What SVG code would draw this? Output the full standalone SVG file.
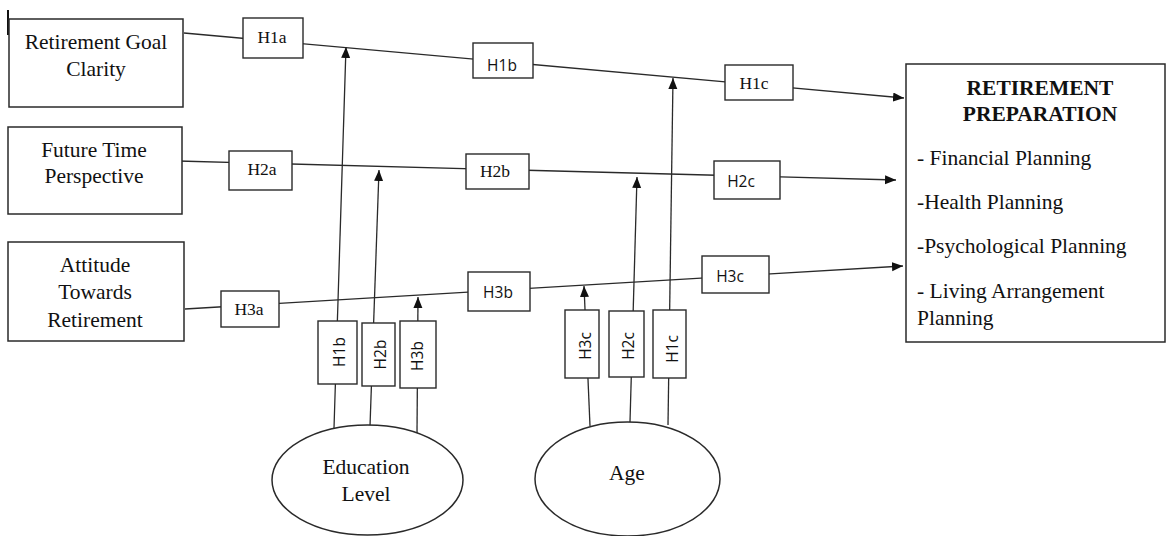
<svg xmlns="http://www.w3.org/2000/svg" width="1167" height="536" viewBox="0 0 1167 536">
<style>
  .box { fill: #fff; stroke: #2a2a2a; stroke-width: 1.5; }
  .lbl { fill: #fff; stroke: #2a2a2a; stroke-width: 1.4; }
  .edge { fill: none; stroke: #2a2a2a; stroke-width: 1.3; }
  .serif { font-family: "Liberation Serif", "Times New Roman", serif; fill: #111; }
  .sans { font-family: "Open Sans", "Liberation Sans", sans-serif; fill: #111; }
  .node { font-size: 21.5px; text-anchor: middle; }
  .hs { font-size: 17.5px; text-anchor: middle; }
  .hn { font-size: 15.5px; text-anchor: middle; }
  .rp { font-size: 21.5px; }
</style>
<defs>
  <marker id="arrow" markerUnits="userSpaceOnUse" markerWidth="12" markerHeight="10" refX="11" refY="4.5" orient="auto">
    <path d="M0,0 L11,4.5 L0,9 z" fill="#111"/>
  </marker>
</defs>
<rect width="1167" height="536" fill="#fff"/>
<line x1="8" y1="10" x2="8" y2="35" stroke="#111" stroke-width="2"/>

<g id="connectors">
  <line class="edge" x1="184" y1="33" x2="904" y2="98" marker-end="url(#arrow)"/>
  <line class="edge" x1="178" y1="161" x2="896" y2="180" marker-end="url(#arrow)"/>
  <line class="edge" x1="185" y1="309" x2="903" y2="266" marker-end="url(#arrow)"/>
  <line class="edge" x1="334" y1="428" x2="346" y2="47" marker-end="url(#arrow)"/>
  <line class="edge" x1="370" y1="426" x2="379" y2="170" marker-end="url(#arrow)"/>
  <line class="edge" x1="417" y1="433" x2="418" y2="297" marker-end="url(#arrow)"/>
  <line class="edge" x1="590" y1="426" x2="584" y2="286" marker-end="url(#arrow)"/>
  <line class="edge" x1="630" y1="422" x2="637" y2="177" marker-end="url(#arrow)"/>
  <line class="edge" x1="668" y1="425" x2="673" y2="78" marker-end="url(#arrow)"/>
</g>

<g id="node-goal-clarity">
  <rect class="box" x="9" y="19" width="174" height="88"/>
  <text class="serif node" x="96" y="49">Retirement Goal</text>
  <text class="serif node" x="96" y="76">Clarity</text>
</g>
<g id="node-future-time">
  <rect class="box" x="8" y="127" width="174" height="87"/>
  <text class="serif node" x="94" y="157">Future Time</text>
  <text class="serif node" x="94" y="183">Perspective</text>
</g>
<g id="node-attitude">
  <rect class="box" x="8" y="242" width="176" height="99"/>
  <text class="serif node" x="95" y="272">Attitude</text>
  <text class="serif node" x="95" y="299">Towards</text>
  <text class="serif node" x="95" y="327">Retirement</text>
</g>
<g id="node-retirement-preparation">
  <rect class="box" x="906" y="64" width="259" height="278"/>
  <text class="serif rp" x="1040" y="95" text-anchor="middle" font-weight="bold">RETIREMENT</text>
  <text class="serif rp" x="1040" y="121" text-anchor="middle" font-weight="bold">PREPARATION</text>
  <text class="serif rp" x="917" y="165">- Financial Planning</text>
  <text class="serif rp" x="917" y="209">-Health Planning</text>
  <text class="serif rp" x="917" y="253">-Psychological Planning</text>
  <text class="serif rp" x="917" y="298">- Living Arrangement</text>
  <text class="serif rp" x="917" y="325">Planning</text>
</g>
<g id="node-education">
  <ellipse class="box" cx="367.5" cy="480" rx="95.5" ry="55"/>
  <text class="serif node" x="366" y="474">Education</text>
  <text class="serif node" x="366" y="501">Level</text>
</g>
<g id="node-age">
  <ellipse class="box" cx="627.5" cy="479" rx="92.5" ry="57"/>
  <text class="serif node" x="627" y="480">Age</text>
</g>

<g id="label-H1a"><rect class="lbl" x="243" y="18" width="60" height="40"/><text class="serif hs" x="272" y="43">H1a</text></g>
<g id="label-H1b"><rect class="lbl" x="473" y="43" width="60" height="35"/><text class="sans hn" x="502" y="71">H1b</text></g>
<g id="label-H1c"><rect class="lbl" x="725" y="65" width="68" height="35"/><text class="serif hs" x="754" y="89">H1c</text></g>
<g id="label-H2a"><rect class="lbl" x="229" y="151" width="63" height="39"/><text class="serif hs" x="262" y="175">H2a</text></g>
<g id="label-H2b"><rect class="lbl" x="466" y="154" width="63" height="35"/><text class="serif hs" x="495" y="177">H2b</text></g>
<g id="label-H2c"><rect class="lbl" x="714" y="161" width="66" height="38"/><text class="sans hn" x="741" y="187">H2c</text></g>
<g id="label-H3a"><rect class="lbl" x="221" y="291" width="58" height="36"/><text class="serif hs" x="249" y="315">H3a</text></g>
<g id="label-H3b"><rect class="lbl" x="468" y="272" width="62" height="39"/><text class="sans hn" x="498" y="298">H3b</text></g>
<g id="label-H3c"><rect class="lbl" x="702" y="256" width="67" height="37"/><text class="sans hn" x="730" y="282">H3c</text></g>

<g id="label-edu-H1b"><rect class="lbl" x="318" y="321" width="39" height="63"/><text class="sans hn" transform="translate(339,352) rotate(-90)" y="5.5">H1b</text></g>
<g id="label-edu-H2b"><rect class="lbl" x="362" y="323" width="33" height="63"/><text class="sans hn" transform="translate(380,354.5) rotate(-90)" y="5.5">H2b</text></g>
<g id="label-edu-H3b"><rect class="lbl" x="400" y="321" width="36" height="67"/><text class="sans hn" transform="translate(417.5,356) rotate(-90)" y="5.5">H3b</text></g>
<g id="label-age-H3c"><rect class="lbl" x="565" y="310" width="34" height="68"/><text class="sans hn" transform="translate(585.5,346) rotate(-90)" y="5.5">H3c</text></g>
<g id="label-age-H2c"><rect class="lbl" x="609" y="311" width="35" height="66"/><text class="sans hn" transform="translate(628.5,346) rotate(-90)" y="5.5">H2c</text></g>
<g id="label-age-H1c"><rect class="lbl" x="653" y="310" width="33" height="68"/><text class="sans hn" transform="translate(672.5,349) rotate(-90)" y="5.5">H1c</text></g>
</svg>
